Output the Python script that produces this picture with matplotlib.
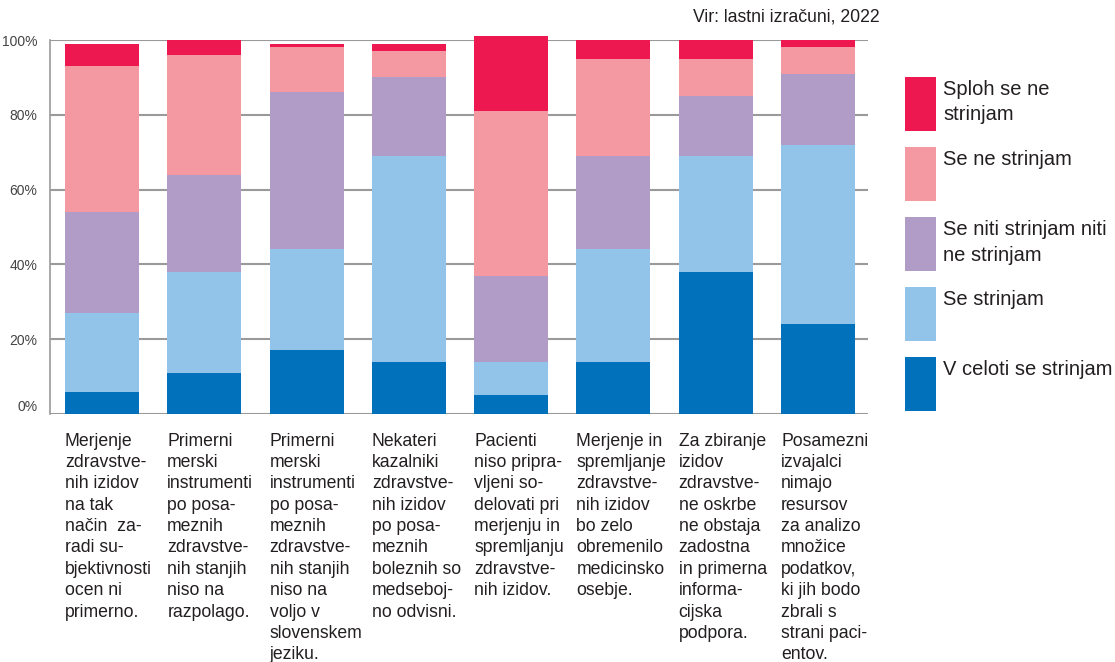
import matplotlib
matplotlib.use("Agg")
import matplotlib.pyplot as plt
import matplotlib.transforms as mtransforms
import numpy as np

plt.rcParams['font.family'] = ['Liberation Sans', 'DejaVu Sans']

categories = [
    "Merjenje\nzdravstve-\nnih izidov\nna tak\nnačin  za-\nradi su-\nbjektivnosti\nocen ni\nprimerno.",
    "Primerni\nmerski\ninstrumenti\npo posa-\nmeznih\nzdravstve-\nnih stanjih\nniso na\nrazpolago.",
    "Primerni\nmerski\ninstrumenti\npo posa-\nmeznih\nzdravstve-\nnih stanjih\nniso na\nvoljo v\nslovenskem\njeziku.",
    "Nekateri\nkazalniki\nzdravstve-\nnih izidov\npo posa-\nmeznih\nboleznih so\nmedseboj-\nno odvisni.",
    "Pacienti\nniso pripra-\nvljeni so-\ndelovati pri\nmerjenju in\nspremljanju\nzdravstve-\nnih izidov.",
    "Merjenje in\nspremljanje\nzdravstve-\nnih izidov\nbo zelo\nobremenilo\nmedicinsko\nosebje.",
    "Za zbiranje\nizidov\nzdravstve-\nne oskrbe\nne obstaja\nzadostna\nin primerna\ninforma-\ncijska\npodpora.",
    "Posamezni\nizvajalci\nnimajo\nresursov\nza analizo\nmnožice\npodatkov,\nki jih bodo\nzbrali s\nstrani paci-\nentov.",
]

series_names = ["V celoti se strinjam", "Se strinjam", "Se niti strinjam niti\nne strinjam",
                "Se ne strinjam", "Sploh se ne\nstrinjam"]
v_celoti = [6, 11, 17, 14, 5, 14, 38, 24]
se_strinjam = [21, 27, 27, 55, 9, 30, 31, 48]
niti_niti = [27, 26, 42, 21, 23, 25, 16, 19]
se_ne = [39, 32, 12, 7, 44, 26, 10, 7]
sploh_ne = [6, 4, 1, 2, 20, 5, 5, 2]
series = [v_celoti, se_strinjam, niti_niti, se_ne, sploh_ne]
colors = ["#0071BA", "#92C4EA", "#B19CC8", "#F498A2", "#EE1851"]

yticks = [0, 20, 40, 60, 80, 100]
ytick_labels = ["0%", "20%", "40%", "60%", "80%", "100%"]

W, H = 1115, 662
fig = plt.figure(figsize=(W / 100, H / 100), dpi=100)
ax = fig.add_axes([50 / W, 1 - 414 / H, (868 - 50) / W, (414 - 40) / H])

x = np.arange(len(categories))
width = 0.723
bottom = np.zeros(len(categories))
handles = []
for vals, col, name in zip(series, colors, series_names):
    b = ax.bar(x, vals, width, bottom=bottom, color=col, label=name, zorder=3, clip_on=False)
    handles.append(b)
    bottom += np.array(vals)

ax.set_xlim(-0.508, 7.489)
ax.set_ylim(0, 100)
ax.set_yticks(yticks)
ax.set_yticklabels(ytick_labels, fontsize=10, color="#444444")
ax.get_yticklabels()[0].set_va('bottom')
ax.set_xticks([])
ax.tick_params(axis='y', length=0, pad=9)
ax.grid(axis='y', color="#9a9a9a", linewidth=1.5, zorder=0)
for s in ["top", "right", "bottom"]:
    ax.spines[s].set_visible(False)
ax.spines["left"].set_color("#9a9a9a")
ax.spines["left"].set_linewidth(1.2)

trans = mtransforms.blended_transform_factory(ax.transData, ax.transAxes)
for i, lab in enumerate(categories):
    ax.text(x[i] - width / 2, -0.05, lab, transform=trans, ha='left', va='top',
            fontsize=12.7, color="#231f20", linespacing=1.335)

fig.text(880 / W, 1 - 17 / H, "Vir: lastni izračuni, 2022", ha='right', va='center',
         fontsize=12.7, color="#231f20")

labels_for_legend = []
for n in series_names:
    labels_for_legend.append(n if "\n" in n else n + "\n ")
fs_leg = 14.5
fs_px = fs_leg * 100 / 72
leg = fig.legend(handles[::-1], labels_for_legend[::-1], loc='upper left',
                 bbox_to_anchor=(905 / W, 1 - 77 / H), frameon=False, fontsize=fs_leg,
                 handlelength=31 / fs_px, handleheight=4.2 * 18 / fs_px,
                 labelspacing=16 / fs_px, handletextpad=7 / fs_px,
                 borderpad=0, borderaxespad=0)
for t in leg.get_texts():
    t.set_color("#231f20")
    t.set_linespacing(1.45)

fig.savefig("out.png", dpi=100)
